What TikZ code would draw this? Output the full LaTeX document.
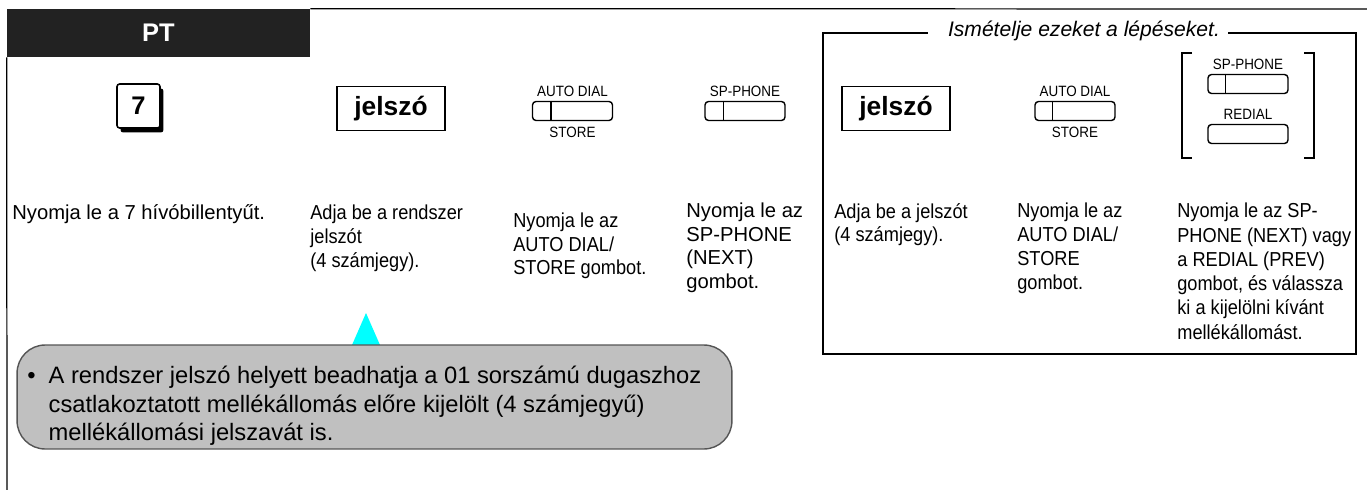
\documentclass[tikz,border=0pt]{standalone}
\usepackage{fontspec}
\setmainfont{Liberation Sans}
\newfontfamily\narrowfont[FakeStretch=0.9]{Liberation Sans}
\usetikzlibrary{positioning, shadows}

\definecolor{barblack}{HTML}{222222}
\definecolor{notegray}{HTML}{C0C0C0}
\definecolor{noteedge}{HTML}{555555}
\definecolor{pointercyan}{HTML}{00FFFF}

\begin{document}
\begin{tikzpicture}[x=0.02cm, y=-0.02cm,
  headbar/.style={fill=barblack, text=white, inner sep=0,
    minimum width=6.06cm, minimum height=0.96cm,
    font=\bfseries\fontsize{14.5}{17}\selectfont},
  keycap/.style={draw, fill=white, line width=0.9pt, rounded corners=1.5pt,
    minimum width=0.86cm, minimum height=0.88cm, inner sep=0,
    font=\bfseries\fontsize{14.5}{17}\selectfont,
    drop shadow={shadow xshift=0.07cm, shadow yshift=-0.09cm, fill=black, opacity=1}},
  wordbox/.style={draw, line width=1.1pt, minimum width=2.16cm, minimum height=0.88cm,
    inner sep=0, font=\bfseries\fontsize{15}{18}\selectfont},
  btn/.style={draw, line width=0.8pt, rounded corners=2pt,
    minimum width=1.6cm, minimum height=0.38cm, inner sep=0},
  btnlabel/.style={inner sep=0, font=\narrowfont\fontsize{8.5}{10}\selectfont},
  steptext/.style={anchor=north west, inner sep=0, align=left,
    font=\narrowfont\fontsize{11.5}{13.5}\selectfont},
  stepwide/.style={steptext, font=\fontsize{11.5}{13.5}\selectfont},
  frame/.style={line width=0.7pt},
  repframe/.style={line width=1pt},
  notebox/.style={draw=noteedge, fill=notegray, line width=0.8pt, rounded corners=16pt,
    minimum width=14.3cm, minimum height=2.08cm, inner sep=0},
  notetext/.style={anchor=north west, inner sep=0, align=left,
    font=\fontsize{13.5}{16.2}\selectfont}
]
\useasboundingbox (0,0) rectangle (1367,490);

% header and page frame
\node[headbar] (pt) at (158.5,33) {PT};
\coordinate (topend) at (1367,9);
\coordinate (leftend) at (7,490);
\draw[frame] (pt.north east) -- (topend);
\draw[frame] (pt.south west) -- (leftend);

% keys and buttons
\node[keycap] (key7) at (138.5,106) {7};
\node[wordbox] (pw1) at (391,108.5) {jelsz\'o};

\node[btn] (ad1) at (572.5,111) {};
\draw[line width=0.8pt] ([xshift=0.38cm]ad1.north west) -- ([xshift=0.38cm]ad1.south west);
\node[btnlabel, above=2pt of ad1] (ad1top) {AUTO DIAL};
\node[btnlabel, below=3pt of ad1] (ad1bot) {STORE};

\node[btn] (sp1) at (745,111) {};
\draw[line width=0.8pt] ([xshift=0.38cm]sp1.north west) -- ([xshift=0.38cm]sp1.south west);
\node[btnlabel, above=2pt of sp1] (sp1top) {SP-PHONE};

% repeated steps
\node[inner sep=0, font=\itshape\fontsize{12}{14}\selectfont] (rtitle) at (1084,31) {Ismételje ezeket a lépéseket.};
\coordinate (repnw) at (823,33);
\coordinate (repse) at (1356,354);
\draw[repframe] ([xshift=-0.4cm]rtitle.west |- repnw) -- (repnw) -- (repnw |- repse)
  -- (repse) -- (repse |- repnw) -- ([xshift=0.16cm]rtitle.east |- repnw);

\node[wordbox] (pw2) at (896,108.5) {jelsz\'o};

\node[btn] (ad2) at (1075,111) {};
\draw[line width=0.8pt] ([xshift=0.36cm]ad2.north west) -- ([xshift=0.36cm]ad2.south west);
\node[btnlabel, above=2pt of ad2] (ad2top) {AUTO DIAL};
\node[btnlabel, below=3pt of ad2] (ad2bot) {STORE};

\node[btn] (sp2) at (1248,84) {};
\draw[line width=0.8pt] ([xshift=0.36cm]sp2.north west) -- ([xshift=0.36cm]sp2.south west);
\node[btnlabel, above=2pt of sp2] (sp2top) {SP-PHONE};
\node[btn] (rd2) at (1248,134) {};
\node[btnlabel, above=2pt of rd2] (rd2top) {REDIAL};

\draw[repframe] (1192,53) -- (1182,53) -- (1182,158) -- (1192,158);
\draw[repframe] (1304,53) -- (1314,53) -- (1314,158) -- (1304,158);

% step texts
\node[stepwide] (t1) at (12,204.5) {Nyomja le a 7 hívóbillentyűt.};
\node[steptext] (t2) at (310,205) {Adja be a rendszer\\jelszót\\(4 számjegy).};
\node[steptext] (t3) at (513,212.5) {Nyomja le az\\AUTO DIAL/\\STORE gombot.};
\node[stepwide] (t4) at (686,202.5) {Nyomja le az\\SP-PHONE\\(NEXT)\\gombot.};
\node[steptext] (t5) at (834,203) {Adja be a jelszót\\(4 számjegy).};
\node[steptext] (t6) at (1017,203) {Nyomja le az\\AUTO DIAL/\\STORE\\gombot.};
\node[steptext, font=\narrowfont\fontsize{11.5}{13.8}\selectfont] (t7) at (1177,203) {Nyomja le az SP-\\PHONE (NEXT) vagy\\a REDIAL (PREV)\\gombot, és válassza\\ki a kijelölni kívánt\\mellékállomást.};

% note
\fill[pointercyan] (352,345) -- (366,313) -- (380,345) -- cycle;
\node[notebox] (note) at (374.5,397) {};
\node[notetext] (notetxt) at (27,366) {\textbullet\hspace{0.55em}A rendszer jelszó helyett beadhatja a 01 sorszámú dugaszhoz\\
  \hphantom{\textbullet\hspace{0.55em}}csatlakoztatott mellékállomás előre kijelölt (4 számjegyű)\\
  \hphantom{\textbullet\hspace{0.55em}}mellékállomási jelszavát is.};
\end{tikzpicture}
\end{document}
